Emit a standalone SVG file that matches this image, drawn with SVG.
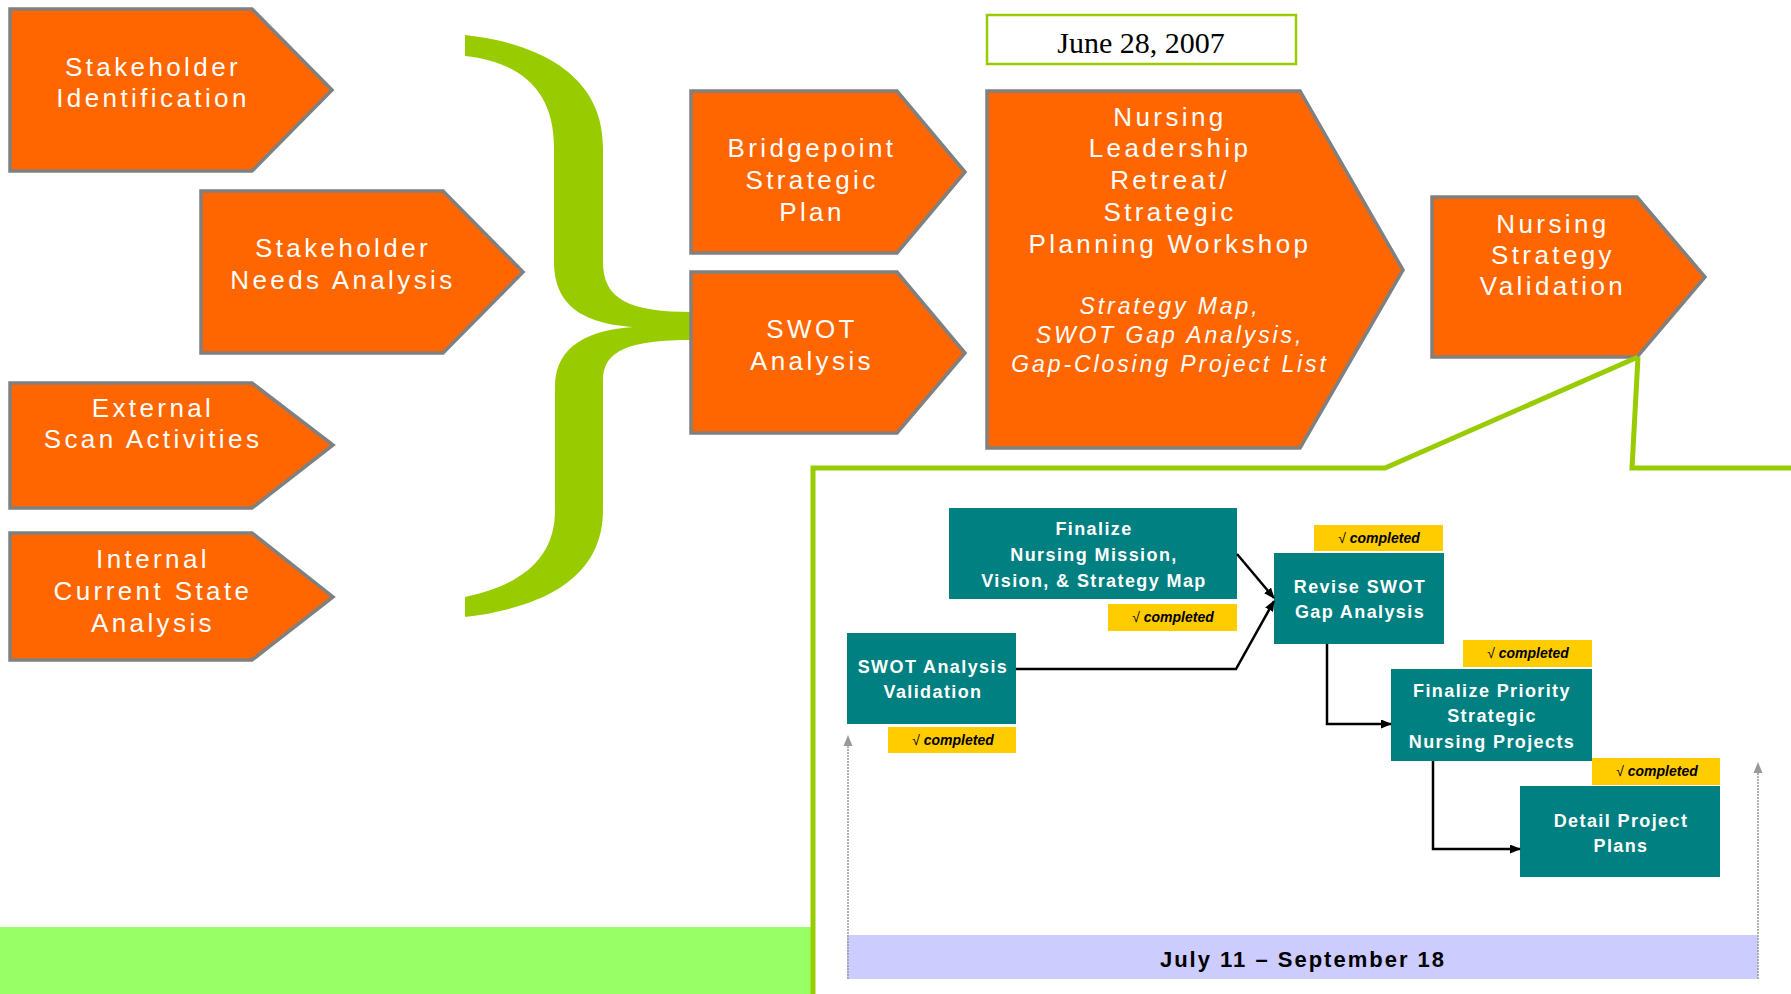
<svg xmlns="http://www.w3.org/2000/svg" width="1791" height="994" viewBox="0 0 1791 994">
  <style>
    .step { fill: #FF6600; stroke: #808080; stroke-width: 3.5; stroke-linejoin: miter; }
    .lbl { font-family: "Liberation Sans", Arial, sans-serif; font-size: 26px; fill: #FFFFFF; letter-spacing: 3.4px; text-anchor: middle; }
    .ital { font-family: "Liberation Sans", Arial, sans-serif; font-size: 23px; font-style: italic; fill: #FFFFFF; letter-spacing: 2.9px; text-anchor: middle; }
    .task { fill: #008080; }
    .tlbl { font-family: "Liberation Sans", Arial, sans-serif; font-size: 18px; font-weight: bold; fill: #FFFFFF; letter-spacing: 1.4px; text-anchor: middle; }
    .tag { fill: #FFCC00; }
    .tagt { font-family: "Liberation Sans", Arial, sans-serif; font-size: 14px; font-weight: bold; font-style: italic; fill: #000000; text-anchor: middle; }
    .chk { font-weight: normal; font-style: normal; }
    .flow { fill: none; stroke: #000000; stroke-width: 2.5; }
    .span { fill: none; stroke: #999999; stroke-width: 1.5; stroke-dasharray: 2 1; }
    .frame { fill: none; stroke: #99CC00; stroke-width: 5; stroke-linejoin: miter; }
  </style>
  <defs>
    <marker id="arrow" markerUnits="userSpaceOnUse" markerWidth="11" markerHeight="9" refX="10" refY="4.5" orient="auto">
      <path d="M0,0 L11,4.5 L0,9 Z" fill="#000000"/>
    </marker>
  </defs>

  <rect width="1791" height="994" fill="#FFFFFF"/>

  <!-- bottom band -->
  <rect x="0" y="927" width="811" height="67" fill="#99FF66"/>

  <!-- curly brace gathering the inputs -->
  <path id="brace" fill="#99CC00" d="M465,35 C530,42 603,70 603,147 L603,262 C603,300 630,312 693,312 L693,340 C630,340 603,350 603,380 L603,510 C603,580 540,608 465,617 L465,597 C520,585 555,560 555,510 L555,387 C555,345 590,330 633,327 C590,324 554,310 554,262 L554,147 C554,90 520,62 465,56 Z"/>

  <!-- input steps -->
  <g id="stakeholder-identification">
    <path class="step" d="M10,9 H252 L332,90 L252,171 H10 Z"/>
    <text class="lbl"><tspan x="153" y="76">Stakeholder</tspan><tspan x="153" y="107">Identification</tspan></text>
  </g>
  <g id="stakeholder-needs">
    <path class="step" d="M201,191 H443 L523,272 L443,353 H201 Z"/>
    <text class="lbl"><tspan x="343" y="257">Stakeholder</tspan><tspan x="343" y="289">Needs Analysis</tspan></text>
  </g>
  <g id="external-scan">
    <path class="step" d="M10,383 H252 L333,445 L252,508 H10 Z"/>
    <text class="lbl"><tspan x="153" y="417">External</tspan><tspan x="153" y="448">Scan Activities</tspan></text>
  </g>
  <g id="internal-analysis">
    <path class="step" d="M10,533 H252 L333,597 L252,660 H10 Z"/>
    <text class="lbl"><tspan x="153" y="568">Internal</tspan><tspan x="153" y="600">Current State</tspan><tspan x="153" y="632">Analysis</tspan></text>
  </g>

  <!-- middle steps -->
  <g id="bridgepoint-plan">
    <path class="step" d="M691,91 H897 L965,172 L897,253 H691 Z"/>
    <text class="lbl"><tspan x="812" y="157">Bridgepoint</tspan><tspan x="812" y="189">Strategic</tspan><tspan x="812" y="221">Plan</tspan></text>
  </g>
  <g id="swot-analysis">
    <path class="step" d="M691,272 H897 L965,353 L897,433 H691 Z"/>
    <text class="lbl"><tspan x="812" y="338">SWOT</tspan><tspan x="812" y="370">Analysis</tspan></text>
  </g>

  <g id="date">
    <rect x="987" y="15" width="309" height="49" fill="#FFFFFF" stroke="#99CC00" stroke-width="2.5"/>
    <text x="1141" y="53" font-family="'Liberation Serif', 'Times New Roman', serif" font-size="30" fill="#000000" text-anchor="middle">June 28, 2007</text>
  </g>

  <g id="leadership-retreat">
    <path class="step" d="M987,91 H1300 L1403,270 L1300,448 H987 Z"/>
    <text class="lbl"><tspan x="1170" y="126">Nursing</tspan><tspan x="1170" y="157">Leadership</tspan><tspan x="1170" y="189">Retreat/</tspan><tspan x="1170" y="221">Strategic</tspan><tspan x="1170" y="253">Planning Workshop</tspan></text>
    <text class="ital"><tspan x="1170" y="314">Strategy Map,</tspan><tspan x="1170" y="343">SWOT Gap Analysis,</tspan><tspan x="1170" y="372">Gap-Closing Project List</tspan></text>
  </g>

  <g id="strategy-validation">
    <path class="step" d="M1432,197 H1637 L1705,277 L1637,357 H1432 Z"/>
    <text class="lbl"><tspan x="1553" y="233">Nursing</tspan><tspan x="1553" y="264">Strategy</tspan><tspan x="1553" y="295">Validation</tspan></text>
  </g>

  <!-- call-out frame expanding the validation step -->
  <g id="callout-frame">
    <polyline class="frame" points="1638,357 1385,468 813,468 813,994"/>
    <polyline class="frame" points="1638,357 1632,468 1791,468"/>
  </g>

  <!-- timeline band -->
  <g id="timeline">
    <rect x="847" y="935" width="911" height="44" fill="#CCCCFF"/>
    <line class="span" x1="848" y1="979" x2="848" y2="744"/>
    <path d="M848,735 L852.5,746 L843.5,746 Z" fill="#999999"/>
    <line class="span" x1="1758" y1="979" x2="1758" y2="771"/>
    <path d="M1758,762 L1762.5,773 L1753.5,773 Z" fill="#999999"/>
    <text x="1303" y="967" font-family="'Liberation Sans', Arial, sans-serif" font-size="22" font-weight="bold" letter-spacing="2" fill="#000000" text-anchor="middle">July 11 – September 18</text>
  </g>

  <!-- task boxes -->
  <g id="finalize-mission">
    <rect class="task" x="949" y="508" width="288" height="91"/>
    <text class="tlbl"><tspan x="1094" y="535">Finalize</tspan><tspan x="1094" y="561">Nursing Mission,</tspan><tspan x="1094" y="587">Vision, &amp; Strategy Map</tspan></text>
    <rect class="tag" x="1108" y="604" width="129" height="27"/>
    <text class="tagt" x="1173" y="622"><tspan class="chk">√</tspan> completed</text>
  </g>
  <g id="revise-swot">
    <rect class="task" x="1274" y="553" width="170" height="91"/>
    <text class="tlbl"><tspan x="1360" y="593">Revise SWOT</tspan><tspan x="1360" y="618">Gap Analysis</tspan></text>
    <rect class="tag" x="1314" y="525" width="129" height="26"/>
    <text class="tagt" x="1379" y="543"><tspan class="chk">√</tspan> completed</text>
  </g>
  <g id="swot-validation">
    <rect class="task" x="847" y="633" width="169" height="91"/>
    <text class="tlbl"><tspan x="933" y="673">SWOT Analysis</tspan><tspan x="933" y="698">Validation</tspan></text>
    <rect class="tag" x="888" y="727" width="128" height="26"/>
    <text class="tagt" x="953" y="745"><tspan class="chk">√</tspan> completed</text>
  </g>
  <g id="priority-projects">
    <rect class="task" x="1391" y="669" width="201" height="92"/>
    <text class="tlbl"><tspan x="1492" y="697">Finalize Priority</tspan><tspan x="1492" y="722">Strategic</tspan><tspan x="1492" y="748">Nursing Projects</tspan></text>
    <rect class="tag" x="1463" y="640" width="129" height="27"/>
    <text class="tagt" x="1528" y="658"><tspan class="chk">√</tspan> completed</text>
  </g>
  <g id="detail-plans">
    <rect class="task" x="1520" y="786" width="200" height="91"/>
    <text class="tlbl"><tspan x="1621" y="827">Detail Project</tspan><tspan x="1621" y="852">Plans</tspan></text>
    <rect class="tag" x="1592" y="758" width="128" height="27"/>
    <text class="tagt" x="1657" y="776"><tspan class="chk">√</tspan> completed</text>
  </g>

  <!-- task connectors -->
  <g id="connectors">
    <path class="flow" d="M1237,554 L1274,598" marker-end="url(#arrow)"/>
    <path class="flow" d="M1016,669 H1236 L1274,601" marker-end="url(#arrow)"/>
    <path class="flow" d="M1327,644 V724 H1391" marker-end="url(#arrow)"/>
    <path class="flow" d="M1433,761 V849 H1520" marker-end="url(#arrow)"/>
  </g>
</svg>
